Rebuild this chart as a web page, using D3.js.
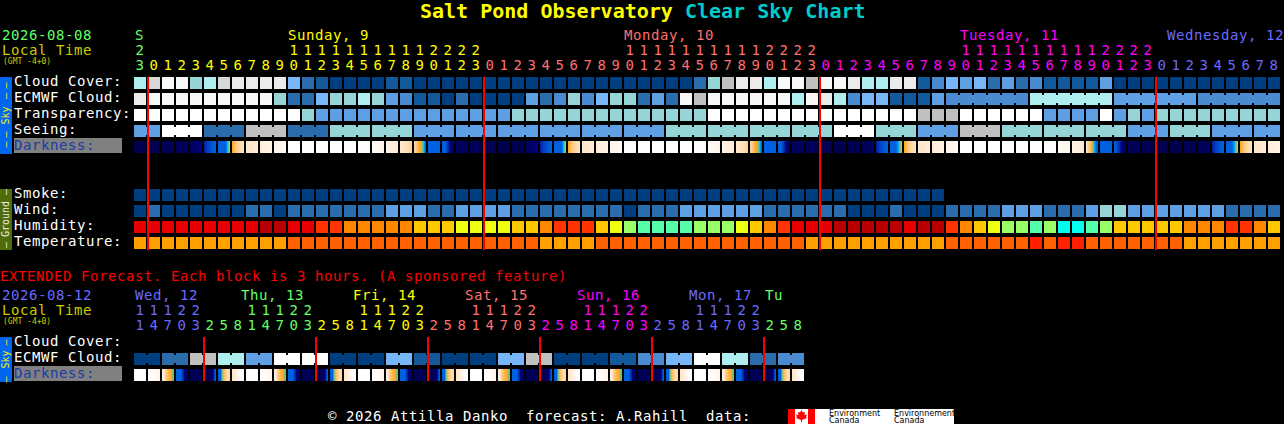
<!DOCTYPE html>
<html><head><meta charset="utf-8">
<script src="https://cdn.jsdelivr.net/npm/d3@7"></script>
<style>
html,body{margin:0;padding:0;background:#000;overflow:hidden}
svg{display:block}
text{font-family:"DejaVu Sans Mono",monospace;font-size:14px;white-space:pre;letter-spacing:0.57px}
</style></head><body>
<svg id="c" width="1284" height="424"></svg>
<script>
// ---- data: palette levels 0 (clear) .. 12 (white) ----
const cloudCover=[7,9,11,11,6,7,9,10,10,10,10,5,2,1,0,0,0,0,1,1,0,
 0,0,0,0,0,0,0,0,0,0,0,0,0,0,0,0,0,0,0,2,6,8,10,10,7,11,11,8,11,11,10,
 7,7,10,10,1,3,5,4,5,2,4,2,3,1,1,1,1,4,0,0,0,0,0,0,0,0,0,0,0,0];
const ecmwfCloud=[10,11,11,11,11,11,11,11,11,11,6,2,2,5,6,6,7,6,4,3,1,1,0,2,0,0,0,0,4,2,3,6,3,5,6,6,2,4,2,
 11,8,11,11,11,11,11,11,7,11,10,7,3,5,5,1,1,1,4,3,3,3,3,3,3,7,7,7,7,7,7,4,4,4,4,4,4,3,3,3,3,3,3];
const ecmwfRuns=[1,1,1,1,1,1,1,1,1,1,1,1,1,1,1,1,1,1,1,1,1,1,1,1,1,1,1,1,1,1,1,1,1,1,1,1,1,1,1,1,1,1,1,1,1,1,1,1,1,1,1,1,1,1,1,1,1,1,6,6,6,6];
const transparency=[12,12,12,12,12,12,12,12,12,12,12,12,6,4,4,4,4,4,4,4,4,4,4,4,4,4,4,6,6,6,6,6,6,6,6,6,6,6,6,6,6,
 12,12,12,12,12,12,12,12,12,12,12,12,12,12,12,8,8,8,12,12,12,12,12,12,4,4,4,4,12,4,6,4,6,6,6,6,6,6,6,6,6];
const seeing=[4,12,2,8,2,6,6,4,4,4,4,4,4,6,6,6,6,12,6,4,8,6,6,6,4,6,4,4];
const seeingRuns=[2,3,3,3,3,3,3,3,3,3,3,3,3,3,3,3,3,3,3,3,3,3,3,3,3,3,3,2];
// limiting magnitude sampled across each block
const darkness=[
 [6.3],[6.3],[6.2],[6.1],[6,5.9,5.7,5.5],[5.2,4.6,4.2,4],[4,4,4,4,4,2.5,1],[1,0.2,-0.3,-0.7,-0.9],
 [-1,-1.5],[-1.5,-2],[-2,-2.6],[-3],[-3],[-3],[-3],[-3],
 [-3,-2.7],[-2.6,-2.1],[-2,-1.3],[-1.2,-0.4],[-0.4,0,0.5,1,1.2,2.5,4],
 [4],[4,4,5,5.7,5.9],[6],[6.1],[6.2],[6.3],[6.3],[6,5.9,5.7,5.5],
 [5.2,4.6,4.2,4],[4,4,4,4,4,2.5,1],[1,0.2,-0.3,-0.7,-0.9],
 [-1,-1.5],[-1.5,-2],[-2,-2.6],[-3],[-3],[-3],[-3],[-3],
 [-3,-2.7],[-2.6,-2.1],[-2,-1.3],[-1.2,-0.4],[-0.4,0,0.5,1,1.2,2.5,4],
 [4],[4,4,5,5.7,5.9],[6],[6.1],[6.2],[6.3],[6.3],[6.1],
 [5.2,4.6,4.2,4],[4,4,4,4,3.2,2,1],[1,0.2,-0.3,-0.7,-0.9],
 [-1,-1.5],[-1.5,-2],[-2,-2.6],[-3],[-3],[-3],[-3],[-3],
 [-3],[-3,-2.7],[-2.6,-2.1],[-2,-1.3],[-1.2,-0.4,0,0.5,1,2,3,4,4],
 [4],[4,4.8,5.5,5.9],[6.1],[6.2],[6.3],[6.3],[6.2],[6.1],
 [5.2,4.6,4.2,4],[4,4,4,4,3.2,2,1],[1,0.2,-0.3,-0.7,-0.9],
 [-1,-1.5],[-1.5,-2]];
const smoke=[0,0,0,0,0,0,0,0,0,0,0,0,0,0,0,0,0,0,0,0,0,0,0,0,0,0,0,0,0,0,0,0,0,0,0,0,0,0,0,0,0,0,0,0,0,0,0,0,0,0,0,0,0,0,0,0,0,0];
const wind=[0,2,0,0,0,0,0,0,2,2,0,2,2,2,2,2,2,2,4,4,4,2,2,4,4,4,4,2,2,2,2,2,2,2,2,0,2,2,2,4,4,4,4,4,4,2,2,2,2,2,2,0,0,0,2,0,0,0,2,2,2,2,4,4,4,2,2,2,4,6,6,4,4,4,4,4,4,4,2,2,2,2];
const humidity=[1,1,1,1,1,1,1,1,1,0,0,1,1,2,2,3,3,3,3,3,4,4,4,5,5,5,5,4,4,3,2,2,2,4,5,6,7,7,7,7,6,6,6,5,4,3,2,1,1,1,0,0,0,0,0,1,0,0,2,3,4,5,6,6,7,6,8,8,7,6,4,4,4,4,4,3,3,3,2,2,3,4];
const temperature=[0,0,0,0,0,0,0,0,0,0,0,1,1,1,1,1,1,1,1,1,1,1,1,1,1,1,1,1,1,0,0,0,0,1,1,1,1,1,1,1,1,1,1,1,1,1,1,1,0,0,0,0,0,0,0,0,0,0,1,1,1,1,1,1,2,1,2,2,1,1,1,1,1,1,1,0,0,0,0,0,0,0];
const hours=[23,0,1,2,3,4,5,6,7,8,9,10,11,12,13,14,15,16,17,18,19,20,21,22,23,0,1,2,3,4,5,6,7,8,9,10,11,12,13,14,15,16,17,18,19,20,21,22,23,0,1,2,3,4,5,6,7,8,9,10,11,12,13,14,15,16,17,18,19,20,21,22,23,0,1,2,3,4,5,6,7,8];
const hourDay=[0,1,1,1,1,1,1,1,1,1,1,1,1,1,1,1,1,1,1,1,1,1,1,1,1,2,2,2,2,2,2,2,2,2,2,2,2,2,2,2,2,2,2,2,2,2,2,2,2,3,3,3,3,3,3,3,3,3,3,3,3,3,3,3,3,3,3,3,3,3,3,3,3,4,4,4,4,4,4,4,4,4];
const midnightCols=[1,25,49,73];
const dayLabels=["S","Sunday, 9","Monday, 10","Tuesday, 11","Wednesday, 12"];
const dayLabelX=[135,288,624,960,1167];
const dayColorIdx=[0,1,2,3,4];
// extended
const extEcmwf=[0,2,8,7,4,12,12,0,0,5,1,0,0,5,8,0,0,1,3,5,12,7,2,3];
const extHours=[11,14,17,20,23,2,5,8,11,14,17,20,23,2,5,8,11,14,17,20,23,2,5,8,11,14,17,20,23,2,5,8,11,14,17,20,23,2,5,8,11,14,17,20,23,2,5,8];
const extHourDay=[4,4,4,4,4,0,0,0,0,0,0,0,0,1,1,1,1,1,1,1,1,2,2,2,2,2,2,2,2,3,3,3,3,3,3,3,3,4,4,4,4,4,4,4,4,0,0,0];
const extDayLabels=["Wed, 12","Thu, 13","Fri, 14","Sat, 15","Sun, 16","Mon, 17","Tu"];
const extDayX=[135,241,353,465,577,689,765];
const extDayColor=[4,0,1,2,3,4,0];
const extDarkness=[
 [-3],[-3,-2.6,-2],[-1.8,-0.5,0.5,1,2],[4,4,4,5,5.8,6],[6.2],[6.2,6.2,6.2,6.2,5.5,4],[4,4,1,0,-0.5,-0.7],[-1,-2,-3],
 [-3],[-3,-2.6,-2],[-1.8,-0.5,0.5,1,2],[4,4,4,5,5.8,6],[6.2],[6.2,6.2,6.2,6.2,5.5,4],[4,4,1,0,-0.5,-0.7],[-1,-2,-3],
 [-3],[-3,-2.6,-2],[-1.8,-0.5,0.5,1,2],[4,4,4,5,5.8,6],[6.2],[6.2,6.2,6.2,6.2,5.5,4],[4,4,1,0,-0.5,-0.7],[-1,-2,-3],
 [-3],[-3,-2.6,-2],[-1.8,-0.5,0.5,1,2],[4,4,4,5,5.8,6],[6.2],[6.2,6.2,6.2,6.2,5.5,4],[4,4,1,0,-0.5,-0.7],[-1,-2,-3],
 [-3],[-3,-2.6,-2],[-1.8,-0.5,0.5,1,2],[4,4,4,5,5.8,6],[6.2],[6.2,6.2,6.2,6.2,5.5,4],[4,4,1,0,-0.5,-0.7],[-1,-2,-3],
 [-3],[-3,-2.6,-2],[-1.8,-0.5,0.5,1,2],[4,4,4,5,5.8,6],[6.2],[6.2,6.2,6.2,6.2,5.5,4],[4,4,1,0,-0.5,-0.7],[-1,-2,-3]];
const extMidnightCols=[5,13,21,29,37,45];

// ---- palettes and scales ----
const skyColors=["#003f7f","#135a9c","#2b6cac","#4a8ad0","#5f9fe4","#78b6fa","#95d5d5","#aeeeee","#c0c0c0","#d8d8d8","#ebebeb","#f7f7f7","#ffffff"];
const humidColors=["#b80000","#e80000","#ff3300","#ff8800","#ffc800","#eeff11","#99ff66","#55ffaa","#00ffee"];
const tempColors=["#ffa000","#ff6000","#ff2000"];
const dayColors=["#66ff66","#ffff00","#ff7070","#ff00ff","#6a6aff"];
const sky=d3.scaleOrdinal(d3.range(13),skyColors);
const humid=d3.scaleOrdinal(d3.range(9),humidColors);
const temp=d3.scaleOrdinal(d3.range(3),tempColors);
const dark=d3.scaleLinear()
 .domain([-3,-2,-1,0,1,2,3,4,5,5.5,6,6.3])
 .range(["#ffffff","#fff4e8","#ffe6c6","#ffc880","#ffa820","#30d0c0","#00a0ff","#0060e0","#0030b0","#000080","#000060","#000050"])
 .clamp(true);
const x=d3.scaleLinear().domain([0,82]).range([134,1282]);
const cellW=12, cellH=12, notch=2;
const rowY=d3.scaleOrdinal(
 ["cloud","ecmwf","transp","seeing","dark","smoke","wind","humid","temp","xcloud","xecmwf","xdark"],
 [77,93,109,125,141,189,205,221,237,337,353,369]);

const svg=d3.select("#c");
svg.append("rect").attr("width",1284).attr("height",424).attr("fill","#000");
const crisp=svg.append("g").attr("shape-rendering","crispEdges");

function txt(sel,s,px,py,fill,opt={}){
 const t=sel.append("text").attr("x",px).attr("y",py).attr("fill",fill).text(s);
 for(const k in opt) t.style(k,opt[k]);
 return t;
}
function cells(name,vals,color){
 crisp.append("g").selectAll("rect").data(vals).join("rect")
  .attr("x",(d,i)=>x(i)).attr("y",rowY(name)).attr("width",cellW).attr("height",cellH)
  .attr("fill",d=>color(d));
}
function runs(name,vals,lens,color,perCol){
 // merged blocks: neighbouring cells in a run are joined by a low connector
 let col=0; const bars=[],joins=[];
 lens.forEach((n,r)=>{
  const v=perCol?vals[col]:vals[r];
  for(let k=0;k<n;k++){
   bars.push({c:col+k,v});
   if(k<n-1) joins.push({c:col+k,v});
  }
  col+=n;
 });
 const g=crisp.append("g");
 g.selectAll("rect.b").data(bars).join("rect").attr("class","b")
  .attr("x",d=>x(d.c)).attr("y",rowY(name)).attr("width",cellW).attr("height",cellH)
  .attr("fill",d=>color(d.v));
 g.selectAll("rect.j").data(joins).join("rect").attr("class","j")
  .attr("x",d=>x(d.c)+cellW).attr("y",rowY(name)+notch).attr("width",x(1)-x(0)-cellW).attr("height",cellH-2*notch)
  .attr("fill",d=>color(d.v));
}
function darkRow(name,vals){
 const strips=[];
 vals.forEach((s,c)=>{
  const f=s.length>1?d3.scaleLinear().domain(s.map((_,k)=>k/(s.length-1))).range(s):()=>s[0];
  d3.range(cellW).forEach(p=>strips.push({c,p,v:f(p/(cellW-1))}));
 });
 crisp.append("g").selectAll("rect").data(strips).join("rect")
  .attr("x",d=>x(d.c)+d.p).attr("y",rowY(name)).attr("width",1).attr("height",cellH)
  .attr("fill",d=>dark(d.v));
}
function redLines(cols,y1,y2){
 crisp.append("g").selectAll("rect").data(cols).join("rect")
  .attr("x",d=>x(d)-1).attr("y",y1).attr("width",2).attr("height",y2-y1).attr("fill","#ff0000");
}

// ---- main chart ----
cells("cloud",cloudCover,sky);
runs("ecmwf",ecmwfCloud,ecmwfRuns,sky,true);
cells("transp",transparency,sky);
runs("seeing",seeing,seeingRuns,sky,false);
darkRow("dark",darkness);
cells("smoke",smoke,sky);
cells("wind",wind,sky);
cells("humid",humidity,humid);
cells("temp",temperature,temp);
redLines(midnightCols,77,250);

// ---- extended chart ----
const pairs=extEcmwf.map(()=>2);
runs("xecmwf",extEcmwf,pairs,sky,false);
darkRow("xdark",extDarkness);
redLines(extMidnightCols,337,381);

// ---- side bars and label plates ----
crisp.append("rect").attr("x",0).attr("y",77).attr("width",12).attr("height",77).attr("fill","#0066ee");
crisp.append("rect").attr("x",0).attr("y",189).attr("width",12).attr("height",61).attr("fill","#4f6b0a");
crisp.append("rect").attr("x",0).attr("y",337).attr("width",12).attr("height",45).attr("fill","#0066ee");
crisp.append("rect").attr("x",14).attr("y",138).attr("width",108).attr("height",15).attr("fill","#808080");
crisp.append("rect").attr("x",14).attr("y",366).attr("width",108).attr("height",15).attr("fill","#808080");

function vtext(s,cy,fill){
 svg.append("text").attr("transform",`translate(9,${cy}) rotate(-90)`).attr("text-anchor","middle")
  .attr("fill",fill).style("font-size","10px").style("letter-spacing","0").text(s);
}
[85.5,96,134.5,144.5].forEach(y=>vtext("\u2013",y,"#ffee00"));
vtext("Sky",115.5,"#ffee00");
[192,245].forEach(y=>vtext("\u2013",y,"#eeeeee"));
vtext("Ground",219,"#eeeeee");
[342.5,379.5].forEach(y=>vtext("\u2013",y,"#ffee00"));
vtext("Sky",359.5,"#ffee00");

// ---- texts ----
const title=svg.append("text").attr("x",420).attr("y",18).style("font-weight","bold").style("font-size","20px").style("letter-spacing","0");
title.append("tspan").attr("fill","#ffff00").text("Salt Pond Observatory ");
title.append("tspan").attr("fill","#00cccc").text("Clear Sky Chart");

const small={"font-size":"8px","letter-spacing":"0"};
txt(svg,"2026-08-08",2,40,"#66ff66");
txt(svg,"Local Time",2,55,"#cccc00");
txt(svg,"(GMT -4+0)",3,64,"#cccc00",small);
txt(svg,"2026-08-12",2,300,"#6a6aff");
txt(svg,"Local Time",2,315,"#cccc00");
txt(svg,"(GMT -4+0)",3,324,"#cccc00",small);
txt(svg,"EXTENDED Forecast. Each block is 3 hours. (A sponsored feature)",0,281,"#ff0000");
txt(svg,"\u00a9 2026 Attilla Danko  forecast: A.Rahill  data:",328,421,"#ffffff");

const labels=[["Cloud Cover:",86],["ECMWF Cloud:",102],["Transparency:",118],["Seeing:",134],["Smoke:",198],["Wind:",214],["Humidity:",230],["Temperature:",246],["Cloud Cover:",346],["ECMWF Cloud:",362]];
labels.forEach(l=>txt(svg,l[0],14,l[1],"#ffffff"));
txt(svg,"Darkness:",14,150,"#1a3caa");
txt(svg,"Darkness:",14,378,"#1a3caa");

function headers(hrs,hd,yTens,yUnits){
 const g=svg.append("g").attr("text-anchor","middle");
 hrs.forEach((h,i)=>{
  const cx=x(i)+cellW/2, col=dayColors[hd[i]];
  txt(g,String(h%10),cx,yUnits,col);
  if(h>=10) txt(g,String(Math.floor(h/10)),cx,yTens,col);
 });
}
headers(hours,hourDay,55,70);
dayLabels.forEach((s,i)=>txt(svg,s,dayLabelX[i],40,dayColors[dayColorIdx[i]]));
headers(extHours,extHourDay,315,330);
extDayLabels.forEach((s,i)=>txt(svg,s,extDayX[i],300,dayColors[extDayColor[i]]));

// ---- logo ----
crisp.append("rect").attr("x",788).attr("y",409).attr("width",166).attr("height",15).attr("fill","#fff");
crisp.append("rect").attr("x",788).attr("y",409).attr("width",7).attr("height",15).attr("fill","#ff0000");
crisp.append("rect").attr("x",808).attr("y",409).attr("width",7).attr("height",15).attr("fill","#ff0000");
svg.append("path").attr("fill","#ff0000")
 .attr("d","M801.5 410 L803 412.5 L805 412 L804.5 415 L807 414.5 L806 417 L807 418 L802 420 L802 422 L801 422 L801 420 L796 418 L797 417 L796 414.5 L798.5 415 L798 412 L800 412.5 Z");
const logoFont={"font-size":"8px","font-family":"'DejaVu Sans',sans-serif","letter-spacing":"0"};
[["Environment",829,416],["Canada",829,423],["Environnement",894,416],["Canada",894,423]].forEach(d=>txt(svg,d[0],d[1],d[2],"#000",logoFont));
</script>
</body></html>
